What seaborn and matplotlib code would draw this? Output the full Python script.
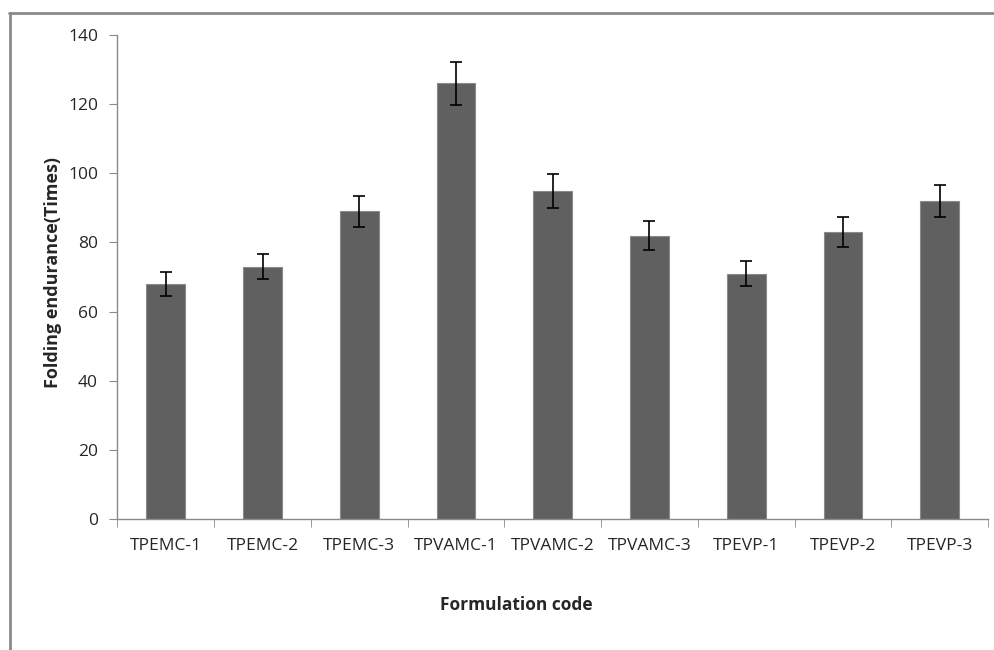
import numpy as np
import pandas as pd
import seaborn as sns
from matplotlib import pyplot as plt
from matplotlib.lines import Line2D

sns.set_style("white")
plt.rcParams['font.family'] = ['Open Sans', 'DejaVu Sans']

categories = ["TPEMC-1", "TPEMC-2", "TPEMC-3", "TPVAMC-1", "TPVAMC-2",
              "TPVAMC-3", "TPEVP-1", "TPEVP-2", "TPEVP-3"]
endurance = [68, 73, 89, 126, 95, 82, 71, 83, 92]
errors = [3.4, 3.7, 4.5, 6.3, 4.9, 4.1, 3.6, 4.3, 4.5]

df = pd.DataFrame({"code": categories, "endurance": endurance})

fig = plt.figure(figsize=(9.95, 6.5), dpi=100)
ax = fig.add_axes([0.118, 0.2015, 0.875, 0.7445])

sns.barplot(data=df, x="code", y="endurance", color="#606060", width=0.4,
            saturation=1, errorbar=None, edgecolor="#8a8a8a", linewidth=0.8, ax=ax)
ax.errorbar(np.arange(len(categories)), endurance, yerr=errors, fmt="none",
            ecolor="black", elinewidth=1.2, capsize=4, capthick=1.2)

ax.set_ylim(0, 140)
ax.set_yticks(range(0, 141, 20))
ax.set_xlim(-0.5, len(categories) - 0.5)

# tick marks sit between categories, as in the original
ax.tick_params(axis="x", which="major", length=0, pad=14, labelsize=12.5)
ax.set_xticks(np.arange(len(categories) + 1) - 0.5, minor=True)
ax.tick_params(axis="x", which="minor", length=6, color="#8a8a8a", direction="out", bottom=True)
ax.tick_params(axis="y", length=6, color="#8a8a8a", direction="out", left=True, labelsize=12.5, pad=8)

for side in ["top", "right"]:
    ax.spines[side].set_visible(False)
for side in ["left", "bottom"]:
    ax.spines[side].set_color("#8a8a8a")
    ax.spines[side].set_linewidth(1)

ax.set_xlabel("")
ax.set_ylabel("")
fig.text(516 / 995, 1 - 605 / 650, "Formulation code", fontweight="bold",
         fontsize=12.5, ha="center", va="center")
fig.text(53 / 995, 1 - 272 / 650, "Folding endurance(Times)", fontweight="bold",
         fontsize=13, ha="center", va="center", rotation=90)

# chart frame (only top and left edges visible in the crop)
fig.add_artist(Line2D([0.0105, 0.0105], [0, 0.98], transform=fig.transFigure,
                      color="#8a8a8a", linewidth=2))
fig.add_artist(Line2D([0.0095, 1.0], [0.98, 0.98], transform=fig.transFigure,
                      color="#8a8a8a", linewidth=2))

fig.savefig("out.png", dpi=100)
